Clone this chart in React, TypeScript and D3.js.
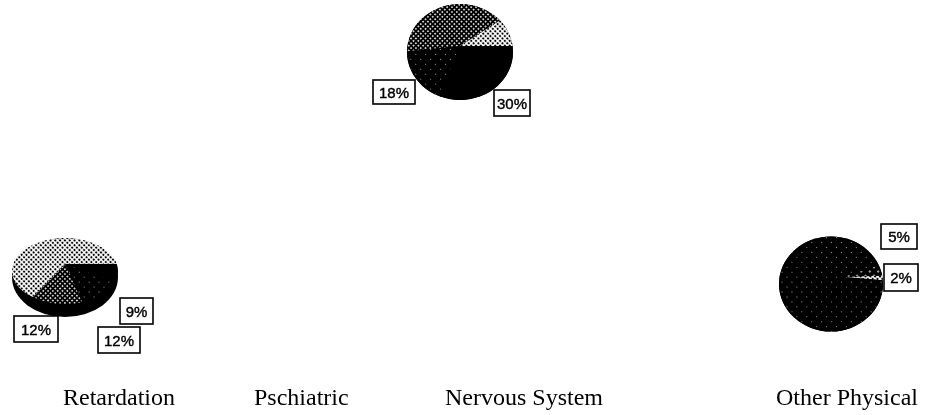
import React from "react";
import * as d3 from "d3";

const nervousSlices = [30, 18, 41, 11];
const nervousFills = ["black", "stipple", "dense", "light"];
const retardationSlices = [9, 12, 12, 67];
const retardationFills = ["black", "stipple", "dense", "light"];
const physicalSlices = [5, 2, 93];
const physicalFills = ["faint", "light", "stipple"];

const categories = ["Retardation", "Pschiatric", "Nervous System", "Other Physical"];
const categoryX = [63, 254, 445, 776];

const pies = [
  { values: nervousSlices, fills: nervousFills, start: 90, ax: 460, ay: 46, rx: 53, ry: 41, cy: 52, ery: 48, oy: 52, ory: 48 },
  { values: retardationSlices, fills: retardationFills, start: 90, ax: 65, ay: 264, rx: 53, ry: 30, cy: 271, ery: 33, oy: 277.5, ory: 39.5 },
  { values: physicalSlices, fills: physicalFills, start: 70, ax: 843, ay: 277, rx: 52, ry: 47, cy: 284, ery: 47.5, oy: 284, ory: 47.5 },
];
const pieCx = [460, 65, 831];

const boxes = [
  { t: "18%", x: 373, y: 80, w: 42, h: 24 },
  { t: "30%", x: 494, y: 90, w: 36, h: 26 },
  { t: "12%", x: 14, y: 316, w: 44, h: 26 },
  { t: "9%", x: 120, y: 298, w: 33, h: 26 },
  { t: "12%", x: 98, y: 327, w: 42, h: 26 },
  { t: "2%", x: 884, y: 264, w: 34, h: 27 },
  { t: "5%", x: 881, y: 224, w: 36, h: 25 },
];

const Pat = ({ id, size, r, bg, fg }: { id: string; size: number; r: number; bg: string; fg: string }) => (
  <pattern id={id} width={size} height={size} patternUnits="userSpaceOnUse" patternTransform="rotate(45)">
    <rect width={size} height={size} fill={bg} />
    <circle cx={size / 2} cy={size / 2} r={r} fill={fg} />
  </pattern>
);

export default function App() {
  return (
    <svg width={926} height={415} style={{ position: "absolute", left: 0, top: 0, background: "#fff" }}>
      <defs>
        <Pat id="light" size={3.4} r={1.15} bg="#fff" fg="#000" />
        <Pat id="dense" size={3.4} r={0.95} bg="#000" fg="#fff" />
        <Pat id="faint" size={6} r={1} bg="#000" fg="#ccc" />
        <Pat id="stipple" size={7} r={0.6} bg="#000" fg="#aaa" />
        <filter id="soft"><feGaussianBlur stdDeviation="0.3" /></filter>
        {pies.map((p, i) => (
          <clipPath key={i} id={`disc${i}`}>
            <ellipse cx={pieCx[i]} cy={p.cy} rx={p.rx} ry={p.ery} />
          </clipPath>
        ))}
      </defs>
      <g filter="url(#soft)">
        {pies.map((p, i) => {
          const s = (p.start * Math.PI) / 180;
          const arcs = d3.pie<number>().sort(null).startAngle(s).endAngle(s + 2 * Math.PI)(p.values);
          const line = d3.line<[number, number]>();
          const wedge = (a0: number, a1: number) => {
            const n = Math.max(2, Math.ceil((a1 - a0) / 0.1));
            const pts: [number, number][] = [[p.ax, p.ay]];
            d3.range(n + 1).forEach((k) => {
              const t = a0 + ((a1 - a0) * k) / n;
              pts.push([p.ax + 2.5 * p.rx * Math.sin(t), p.ay - 2.5 * p.ry * Math.cos(t)]);
            });
            return line(pts) + "Z";
          };
          return (
            <g key={i}>
              <ellipse cx={pieCx[i]} cy={p.oy} rx={p.rx} ry={p.ory} fill="#000" />
              <g clipPath={`url(#disc${i})`}>
                {arcs.map((a, j) => {
                  const f = p.fills[j];
                  return <path key={j} d={wedge(a.startAngle, a.endAngle)} fill={f === "black" ? "#000" : `url(#${f})`} />;
                })}
              </g>
            </g>
          );
        })}
        {boxes.map((b, i) => (
          <g key={i}>
            <rect x={b.x} y={b.y} width={b.w} height={b.h} fill="#fff" stroke="#000" strokeWidth={1.6} />
            <text x={b.x + b.w / 2} y={b.y + b.h / 2 + 5.5} textAnchor="middle" fontFamily="Liberation Sans" fontSize={15} stroke="#000" strokeWidth={0.4} fill="#000">
              {b.t}
            </text>
          </g>
        ))}
      </g>
      {categories.map((c, i) => (
        <text key={c} x={categoryX[i]} y={405} fontFamily="Liberation Serif" fontSize={24} fill="#000">{c}</text>
      ))}
    </svg>
  );
}
